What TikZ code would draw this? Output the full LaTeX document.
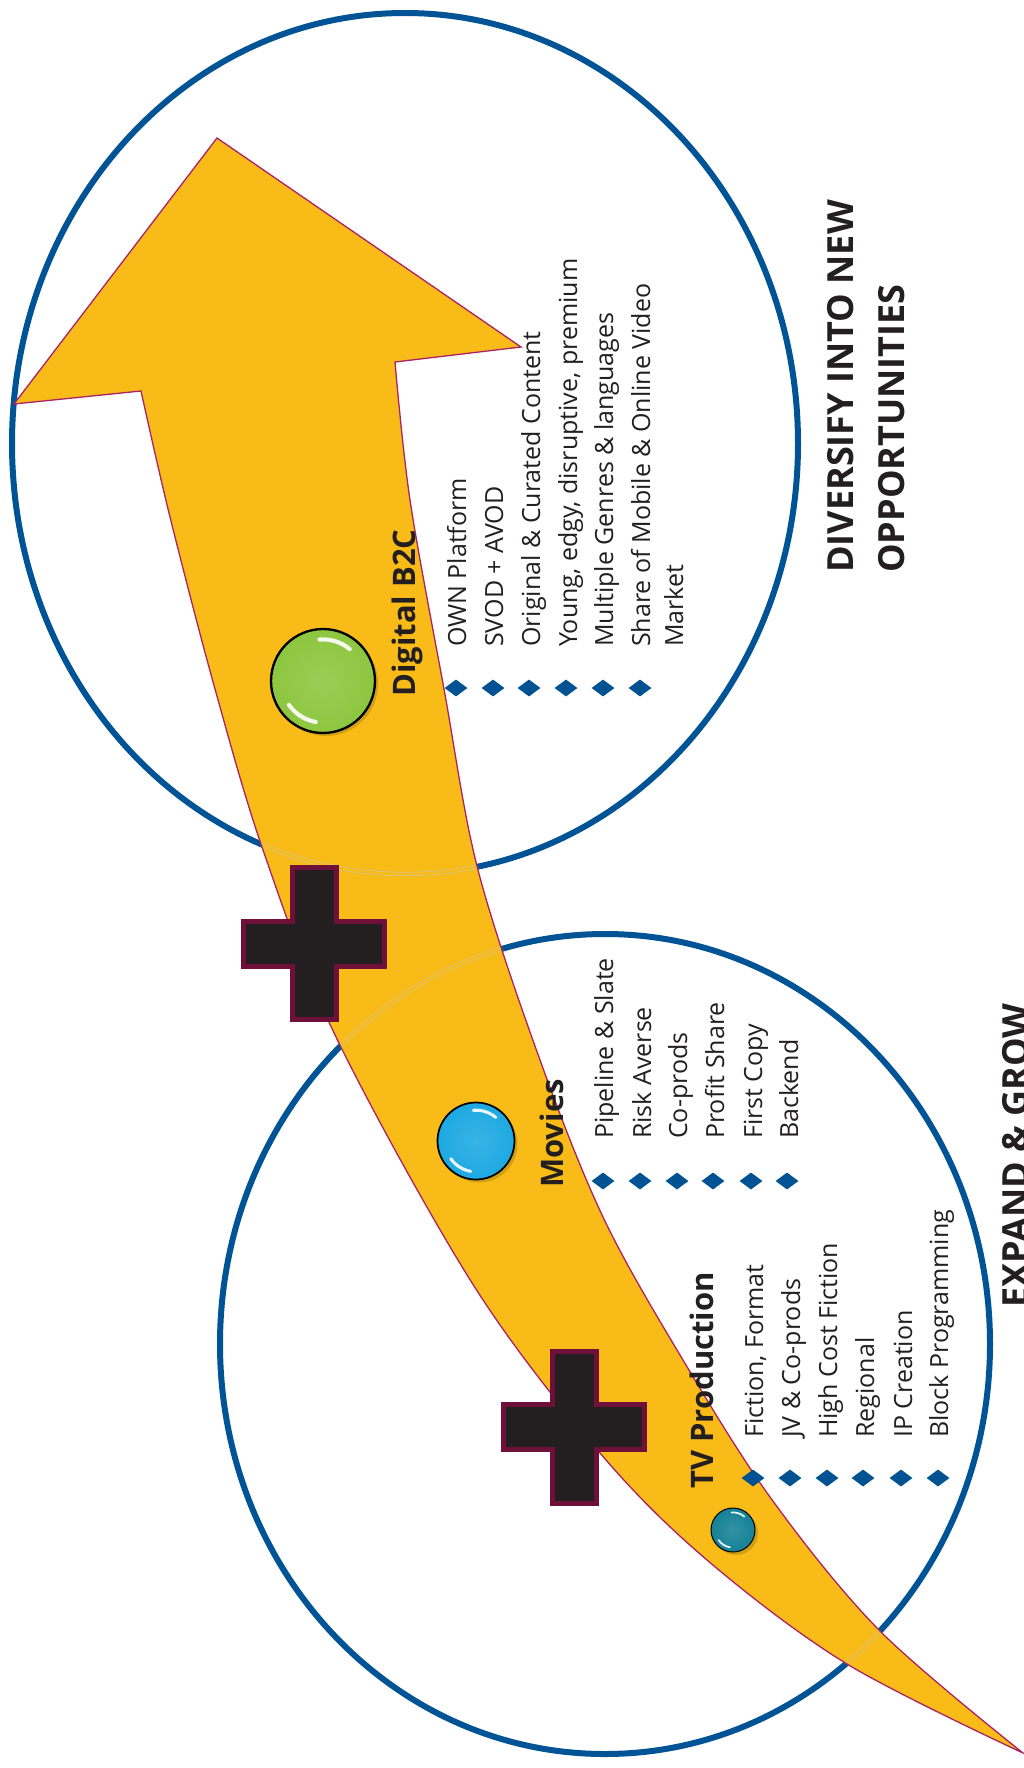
\documentclass[tikz,border=0pt]{standalone}
\usepackage{fontspec}
\setmainfont{Open Sans}
\usetikzlibrary{shapes.geometric}
\definecolor{arrowfill}{RGB}{248,187,23}
\definecolor{arrowline}{RGB}{170,35,100}
\definecolor{ringblue}{RGB}{0,84,150}
\definecolor{bulletblue}{RGB}{0,82,147}
\definecolor{crossfill}{RGB}{35,31,32}
\definecolor{crossline}{RGB}{110,16,58}
\definecolor{inkc}{RGB}{35,31,32}
\definecolor{ballgreen}{RGB}{141,198,63}
\definecolor{ballblue}{RGB}{29,169,225}
\definecolor{ballteal}{RGB}{22,130,150}
\def\myarrowpath{plot[smooth, tension=0.55] coordinates {(1023,1753) (880,1631) (770,1497) (680,1355) (603,1217) (540,1060) (478,870) (444,689) (410,500) (395,362)}
 -- (521,347) -- (217,138) -- (14,404) -- (141,391)
 -- plot[smooth, tension=0.55] coordinates {(141,391) (170,517) (215,689) (263,850) (336,1037) (474,1286) (600,1453) (707,1560) (847,1664) (1023,1753)} -- cycle}
\tikzset{
  pics/plusmark/.style={code={
    \draw[fill=crossfill, draw=crossline, line width=5pt, line join=miter]
      (-22,-76) -- (22,-76) -- (22,-22.5) -- (70.5,-22.5) -- (70.5,22.5) -- (22,22.5)
      -- (22,76) -- (-22,76) -- (-22,22.5) -- (-70.5,22.5) -- (-70.5,-22.5) -- (-22,-22.5) -- cycle;
  }},
  pics/gloss/.style 2 args={code={
    \fill[black, opacity=0.15] (3,3) circle[radius=#2];
    \shade[inner color=#1!88!white, outer color=#1] (0,0) circle[radius=#2];
    \draw[black, line width={0.045*#2}] (0,0) circle[radius=#2];
    \draw[white, opacity=0.9, line width={0.08*#2}, line cap=round] ({-50}:{0.8*#2}) arc[start angle=-50, end angle=-95, radius={0.8*#2}];
    \draw[white, opacity=0.9, line width={0.08*#2}, line cap=round] ({-215}:{0.8*#2}) arc[start angle=-215, end angle=-260, radius={0.8*#2}];
  }}
}
\begin{document}
\begin{tikzpicture}[x=1pt,y=-1pt,
  ring/.style={draw=ringblue, line width=6pt},
  itemtext/.style={font=\fontsize{25}{30}\selectfont, text=inkc, anchor=base west, rotate=90, inner sep=0pt},
  headtext/.style={font=\fontsize{31}{36}\selectfont\bfseries, text=inkc, anchor=base west, rotate=90, inner sep=0pt},
  bigtext/.style={font=\fontsize{36}{42}\selectfont\bfseries, text=inkc, anchor=base west, rotate=90, inner sep=0pt},
  bul/.style={shape=diamond, fill=bulletblue, inner sep=0pt, minimum width=23pt, minimum height=17pt}]
\useasboundingbox (0,0) rectangle (1024,1768);
\clip (0,0) rectangle (1024,1768);
\fill[white] (0,0) rectangle (1024,1768);
% circles
\draw[ring] (405,443.5) ellipse[x radius=393, y radius=430.5];
\draw[ring] (605,1344) ellipse[x radius=385, y radius=410];
% arrow
\fill[arrowfill] \myarrowpath;
\begin{scope}
  \clip \myarrowpath;
  \draw[gray!45, line width=0.5pt, double=arrowfill, double distance=3pt] (405,443.5) ellipse[x radius=393, y radius=430.5];
  \draw[gray!45, line width=0.5pt, double=arrowfill, double distance=3pt] (605,1344) ellipse[x radius=385, y radius=410];
\end{scope}
\draw[arrowline, line width=1.3pt, line join=miter] \myarrowpath;
% plus signs
\pic at (314,943.5) {plusmark};
\pic at (574,1427) {plusmark};
% balls
\pic at (323,681) {gloss={ballgreen}{52}};
\pic at (476,1141) {gloss={ballblue}{38.5}};
\pic at (733,1530) {gloss={ballteal}{22}};
% Digital B2C
\node[headtext] (dh) at (415,697) {Digital B2C};
\node[itemtext] (d1) at (466,647) {OWN Platform};
\node[itemtext] (d2) at (503,647) {SVOD + AVOD};
\node[itemtext] (d3) at (540,647) {Original \& Curated Content};
\node[itemtext] (d4) at (577,647) {Young, edgy, disruptive, premium};
\node[itemtext] (d5) at (613,647) {Multiple Genres \& languages};
\node[itemtext] (d6) at (650,647) {Share of Mobile \& Online Video};
\node[itemtext] (d6b) at (683,647) {Market};
\foreach \xx [count=\i] in {456,493,529,566,603,640} \node[bul] (db\i) at (\xx,688) {};
% Movies
\node[headtext] (mh) at (563,1188) {Movies};
\node[itemtext] (m1) at (613,1139) {Pipeline \& Slate};
\node[itemtext] (m2) at (651,1139) {Risk Averse};
\node[itemtext] (m3) at (687,1139) {Co-prods};
\node[itemtext] (m4) at (724,1139) {Profit Share};
\node[itemtext] (m5) at (762,1139) {First Copy};
\node[itemtext] (m6) at (798,1139) {Backend};
\foreach \xx [count=\i] in {603,640,677,713,751,787} \node[bul] (mb\i) at (\xx,1181) {};
% TV Production
\node[headtext] (th) at (713,1489) {TV Production};
\node[itemtext] (t1) at (763,1438) {Fiction, Format};
\node[itemtext] (t2) at (800,1438) {JV \& Co-prods};
\node[itemtext] (t3) at (837,1438) {High Cost Fiction};
\node[itemtext] (t4) at (874,1438) {Regional};
\node[itemtext] (t5) at (912,1438) {IP Creation};
\node[itemtext] (t6) at (948,1438) {Block Programming};
\foreach \xx [count=\i] in {753,790,827,863,901,938} \node[bul] (tb\i) at (\xx,1478) {};
% big headings
\node[bigtext] (g1a) at (853,573) {DIVERSIFY INTO NEW};
\node[bigtext] (g1b) at (904,573) {OPPORTUNITIES};
\node[bigtext] (g2) at (1028,1308) {EXPAND \& GROW};
\end{tikzpicture}
\end{document}
